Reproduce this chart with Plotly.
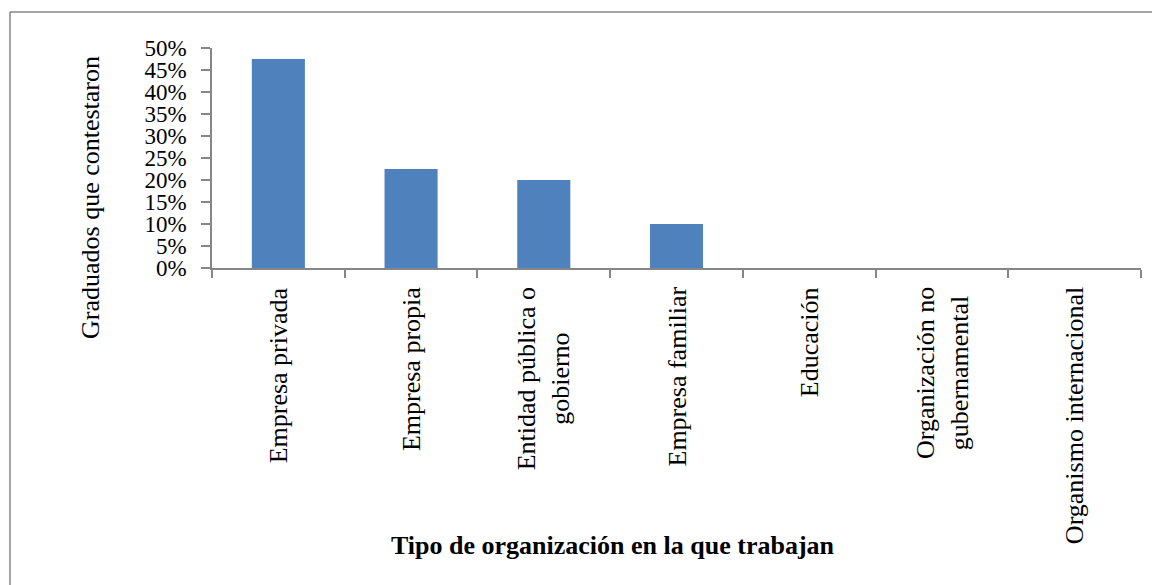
import plotly.graph_objects as go

categories = ["Empresa privada", "Empresa propia", "Entidad pública o<br>gobierno",
              "Empresa familiar", "Educación", "Organización no<br>gubernamental",
              "Organismo internacional"]
values = [0.475, 0.225, 0.20, 0.10, 0.0, 0.0, 0.0]
y_ticks = [0, 0.05, 0.10, 0.15, 0.20, 0.25, 0.30, 0.35, 0.40, 0.45, 0.50]
x_title = "Tipo de organización en la que trabajan"
y_title = "Graduados que contestaron"

W, H = 1160, 585
OFF = 8  # page body margin
# plot area in screen pixels
X0, X1, Y0, Y1 = 212, 1141, 48, 268
L, T = X0 - OFF, Y0 - OFF
PW, PH = X1 - X0, Y1 - Y0
R, B = W - L - PW, H - T - PH

def px(x):
    return (x - X0) / PW

def py(y):
    return (Y1 - y) / PH

FONT = "Liberation Serif"
AXC = "#868686"

fig = go.Figure()
fig.add_trace(go.Bar(
    x=list(range(len(categories))), y=values,
    marker=dict(color="#4F81BD", line=dict(width=0)),
    width=0.4,
))

fig.update_layout(
    width=W, height=H,
    margin=dict(l=L, r=R, t=T, b=B, autoexpand=False),
    paper_bgcolor="white", plot_bgcolor="white",
    showlegend=False,
    font=dict(family=FONT, color="black"),
)
fig.update_xaxes(
    range=[-0.5, len(categories) - 0.5],
    tickmode="array", tickvals=[i - 0.5 for i in range(len(categories) + 1)],
    showticklabels=False,
    ticks="outside", ticklen=8, tickcolor=AXC, tickwidth=1.5,
    showline=True, linecolor=AXC, linewidth=1.5,
    showgrid=False, zeroline=False,
)
fig.update_yaxes(
    range=[0, 0.5], tickmode="array", tickvals=y_ticks,
    ticktext=[f"{round(v*100)}%" for v in y_ticks],
    tickfont=dict(family=FONT, size=23, color="black"),
    ticks="outside", ticklen=9, tickcolor=AXC, tickwidth=1.5,
    ticklabelstandoff=10,
    showline=True, linecolor=AXC, linewidth=1.5,
    showgrid=False, zeroline=False,
)

for i, c in enumerate(categories):
    fig.add_annotation(
        x=i, xref="x", y=0, yref="paper", yanchor="top", xanchor="center",
        yshift=-17, text=c, textangle=-90, showarrow=False, align="center",
        font=dict(family=FONT, size=26, color="black"),
    )

fig.add_annotation(
    x=px(613), y=py(545), xref="paper", yref="paper",
    text=f"<b>{x_title}</b>", showarrow=False, xanchor="center", yanchor="middle",
    font=dict(family=FONT, size=26, color="black"),
)
fig.add_annotation(
    x=px(90), y=py(198), xref="paper", yref="paper",
    text=y_title, textangle=-90, showarrow=False, xanchor="center", yanchor="middle",
    font=dict(family=FONT, size=26, color="black"),
)

# chart border (top and left edges visible)
fig.add_shape(type="line", xref="paper", yref="paper",
              x0=px(10), x1=px(1175), y0=py(12), y1=py(12),
              line=dict(color=AXC, width=1.5))
fig.add_shape(type="line", xref="paper", yref="paper",
              x0=px(10), x1=px(10), y0=py(12), y1=py(600),
              line=dict(color=AXC, width=1.5))

fig.write_html("out.html")
